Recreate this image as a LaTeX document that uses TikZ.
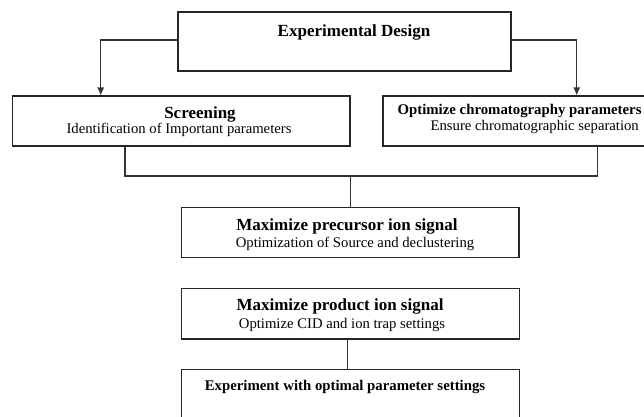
\documentclass[tikz,border=0pt]{standalone}
\usepackage{fontspec}
\setmainfont{Liberation Serif}
\usetikzlibrary{arrows.meta}

\begin{document}
\begin{tikzpicture}[x=1pt,y=-1pt,
  box/.style={draw=black!85,line width=1.1pt,inner sep=0pt,fill=none},
  ln/.style={draw=black!80,line width=1.1pt},
  arr/.style={ln,-{Latex[length=8pt,width=7pt]}},
  head/.style={inner sep=0pt,anchor=base,font=\fontsize{17}{20}\selectfont\bfseries},
  subhead/.style={inner sep=0pt,anchor=base,font=\fontsize{14.8}{17}\selectfont\bfseries},
  body/.style={inner sep=0pt,anchor=base,font=\fontsize{14.7}{17}\selectfont}]
  \useasboundingbox (0,0) rectangle (644,416);
  \clip (0,0) rectangle (644,416);

  % boxes
  \node[box,minimum width=333pt,minimum height=59pt]   (top)    at (344.5,41.5) {};
  \node[box,minimum width=337.3pt,minimum height=50pt] (screen) at (181.35,121) {};
  \node[box,minimum width=270pt,minimum height=50pt]   (chrom)  at (518,121) {};
  \node[box,minimum width=337.7pt,minimum height=50.4pt] (prec) at (350.15,232.5) {};
  \node[box,minimum width=338pt,minimum height=50.3pt] (prod)   at (350.3,313.85) {};
  \node[box,minimum width=338pt,minimum height=70pt]   (exp)    at (350.3,404.3) {};

  % texts
  \node[head]    (tTop)  at (354,36)    {Experimental Design};
  \node[head]    (tScr)  at (200,118.5) {Screening};
  \node[body]    (sScr)  at (179,133)   {Identification of Important parameters};
  \node[subhead,anchor=base east] (tChr) at (641.7,114.5) {Optimize chromatography parameters};
  \node[body,anchor=base east]    (sChr) at (639,130)     {Ensure chromatographic separation};
  \node[head]    (tPre)  at (347,230.5) {Maximize precursor ion signal};
  \node[body]    (sPre)  at (355,247)   {Optimization of Source and declustering};
  \node[head]    (tPro)  at (340,310.5) {Maximize product ion signal};
  \node[body]    (sPro)  at (342,328)   {Optimize CID and ion trap settings};
  \node[subhead] (tExp)  at (345,390)   {Experiment with optimal parameter settings};

  % connector bends
  \coordinate (lft) at (100.7,40);
  \coordinate (rgt) at (576.7,40);
  \coordinate (jl)  at (125,176);
  \coordinate (jr)  at (597.7,176);
  \coordinate (jm)  at (350.3,176);
  \coordinate (pm)  at (347.7,339);

  % connectors
  \draw[arr] (top.west |- lft) -- (lft) -- (lft |- screen.north);
  \draw[arr] (top.east |- rgt) -- (rgt) -- (rgt |- chrom.north);
  \draw[ln] (jl |- screen.south) -- (jl) -- (jr) -- (jr |- chrom.south);
  \draw[ln] (jm) -- (jm |- prec.north);
  \draw[ln] (pm |- prod.south) -- (pm |- exp.north);
\end{tikzpicture}
\end{document}
